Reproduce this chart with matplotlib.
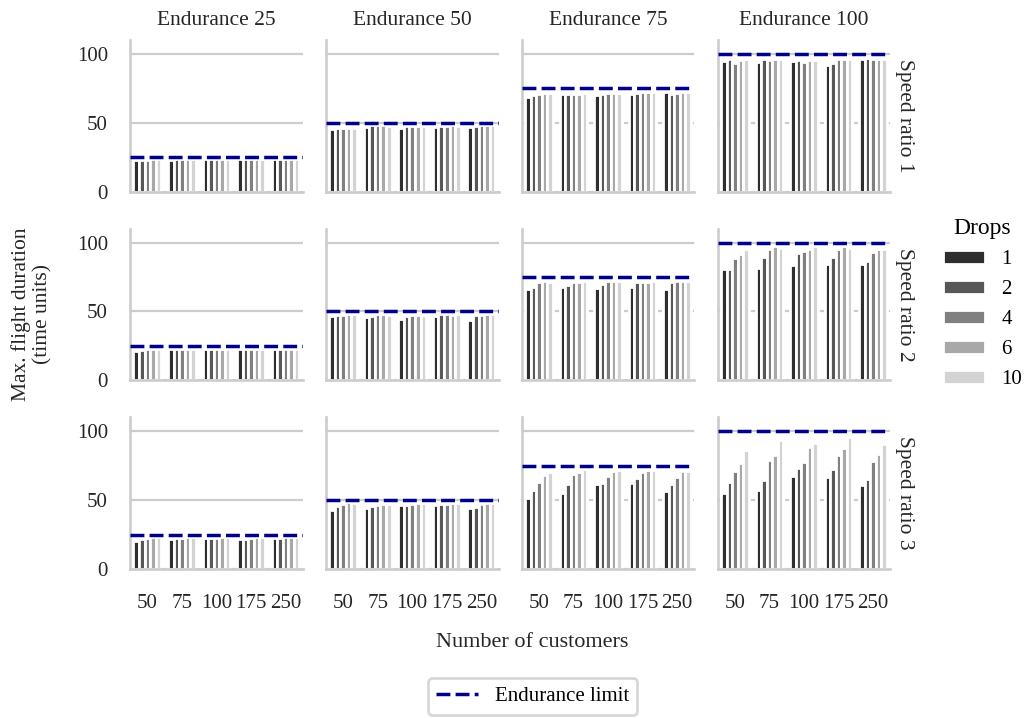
import numpy as np
import matplotlib
matplotlib.use('Agg')
import matplotlib.pyplot as plt
from matplotlib.lines import Line2D
from matplotlib.patches import Patch

plt.rcParams['font.family'] = ['Liberation Serif', 'DejaVu Serif']

customers = ['50', '75', '100', '175', '250']
drops = ['1', '2', '4', '6', '10']
endurance = [25, 50, 75, 100]
speed_ratios = [1, 2, 3]
drop_colors = ['#2e2e2e', '#575757', '#808080', '#a8a8a8', '#d3d3d3']

# each panel: rows = customers, columns = drops
e25_s1 = [[23.0, 23.0, 22.7, 23.5, 23.5],
          [23.0, 23.5, 23.5, 23.5, 23.5],
          [23.5, 23.5, 23.5, 23.5, 23.5],
          [23.5, 23.5, 23.5, 23.5, 23.5],
          [23.5, 23.5, 23.5, 23.5, 23.5]]
e50_s1 = [[45.8, 46.6, 46.1, 46.6, 46.1],
          [47.0, 48.3, 48.3, 48.3, 47.8],
          [46.6, 47.5, 47.5, 47.8, 47.5],
          [47.3, 47.5, 48.0, 48.3, 47.8],
          [47.3, 47.8, 48.3, 48.3, 48.3]]
e75_s1 = [[68.9, 70.1, 70.8, 71.8, 71.8],
          [70.6, 71.3, 70.8, 71.3, 71.8],
          [70.1, 70.6, 71.5, 72.0, 71.8],
          [70.6, 71.8, 72.5, 72.7, 72.3],
          [72.3, 71.3, 71.8, 72.3, 72.3]]
e100_s1 = [[94.6, 96.1, 93.2, 95.4, 96.1],
           [94.2, 96.6, 95.4, 96.1, 96.1],
           [95.1, 95.6, 93.9, 95.6, 95.4],
           [92.2, 93.7, 96.6, 96.6, 96.1],
           [96.6, 97.3, 96.1, 96.6, 96.6]]

e25_s2 = [[21.5, 22.0, 22.5, 22.5, 22.5],
          [22.5, 22.7, 22.7, 22.7, 22.7],
          [22.7, 22.7, 22.7, 22.7, 22.7],
          [22.5, 22.7, 22.7, 22.7, 22.7],
          [22.7, 22.7, 22.7, 22.7, 22.7]]
e50_s2 = [[46.5, 47.8, 47.5, 48.3, 48.0],
          [46.3, 46.8, 48.0, 48.0, 47.3],
          [44.8, 46.5, 47.5, 47.5, 47.5],
          [46.5, 48.0, 48.0, 47.3, 48.0],
          [44.0, 47.8, 47.5, 48.0, 48.0]]
e75_s2 = [[66.3, 67.8, 71.7, 72.4, 71.7],
          [67.8, 69.5, 71.7, 71.7, 72.0],
          [67.0, 70.2, 72.0, 72.0, 72.0],
          [67.8, 71.7, 71.7, 71.5, 72.4],
          [66.6, 71.7, 72.0, 72.4, 72.4]]
e100_s2 = [[81.0, 80.5, 88.8, 92.0, 95.1],
           [81.7, 89.5, 95.6, 97.6, 96.3],
           [83.7, 92.2, 93.7, 95.6, 97.6],
           [84.6, 89.5, 95.1, 97.6, 96.3],
           [84.4, 86.6, 93.2, 95.6, 95.6]]

e25_s3 = [[20.0, 21.5, 22.5, 23.0, 23.0],
          [22.0, 22.5, 22.5, 23.0, 23.0],
          [22.5, 22.5, 22.5, 23.0, 23.0],
          [21.5, 22.0, 22.5, 23.0, 23.0],
          [22.5, 22.5, 23.0, 23.0, 23.0]]
e50_s3 = [[43.1, 45.6, 47.5, 48.3, 48.0],
          [44.3, 45.6, 46.6, 47.0, 47.5],
          [46.3, 46.3, 47.5, 48.0, 48.0],
          [46.8, 47.0, 47.0, 47.8, 47.8],
          [44.6, 45.0, 47.5, 47.8, 47.8]]
e75_s3 = [[51.3, 57.4, 63.2, 68.0, 70.5],
          [55.2, 62.0, 69.0, 70.7, 72.4],
          [61.5, 62.7, 67.8, 71.2, 72.2],
          [62.2, 65.9, 70.5, 71.9, 71.7],
          [56.4, 62.0, 66.8, 70.9, 71.2]]
e100_s3 = [[54.9, 63.3, 71.1, 77.2, 86.4],
           [57.5, 64.8, 79.4, 83.0, 93.9],
           [67.7, 73.5, 77.9, 88.6, 91.7],
           [66.5, 72.6, 83.0, 88.1, 95.9],
           [60.9, 65.5, 78.2, 83.7, 91.0]]

panels = [[e25_s1, e50_s1, e75_s1, e100_s1],
          [e25_s2, e50_s2, e75_s2, e100_s2],
          [e25_s3, e50_s3, e75_s3, e100_s3]]

grid_col = '#cccccc'
line_col = '#00008b'
txt_col = '#262626'
fs = 15.5
tick_fs = 15

fig, axes = plt.subplots(3, 4, figsize=(10.28, 7.18), dpi=100, sharex=True, sharey=True)
fig.subplots_adjust(left=0.1265, right=0.866, bottom=0.2075, top=0.944,
                    wspace=0.134, hspace=0.245)

x = np.arange(len(customers))
bw = 0.8 / len(drops)

for r, s in enumerate(speed_ratios):
    for c, e in enumerate(endurance):
        ax = axes[r, c]
        vals = np.array(panels[r][c])
        ax.set_axisbelow(True)
        ax.grid(axis='y', color=grid_col, lw=1.6)
        ax.grid(axis='x', visible=False)
        for k in range(len(drops)):
            ax.bar(x - 0.4 + bw * (k + 0.5), vals[:, k], width=bw,
                   color=drop_colors[k], edgecolor='white', lw=2.0, zorder=2)
        ax.axhline(e, color=line_col, ls=(0, (4, 1.5)), lw=2.5, zorder=3)
        ax.set_xlim(-0.5, 4.5)
        ax.set_ylim(0, 110)
        ax.set_yticks([0, 50, 100])
        ax.set_xticks(x)
        ax.set_xticklabels(customers)
        for side in ['top', 'right']:
            ax.spines[side].set_visible(False)
        for side in ['left', 'bottom']:
            ax.spines[side].set_color(grid_col)
            ax.spines[side].set_linewidth(1.9)
        ax.tick_params(axis='both', length=0, labelsize=tick_fs, colors=txt_col)
        ax.tick_params(axis='x', pad=18)
        ax.tick_params(axis='y', pad=16)
        if r == 0:
            ax.set_title(f'Endurance {e}', fontsize=fs, pad=11, color=txt_col)
        if c == 3:
            ax.text(1.025, 0.5, f'Speed ratio {s}', transform=ax.transAxes,
                    rotation=270, va='center', ha='left', fontsize=fs, color=txt_col)

fig.text(0.031, 0.562, 'Max. flight duration\n(time units)', rotation=90,
         ha='center', va='center', fontsize=fs, color=txt_col)
fig.text(0.518, 0.1045, 'Number of customers', ha='center', va='center',
         fontsize=fs + 0.5, color=txt_col)

handles = [Patch(facecolor=col, edgecolor='white', lw=2.0) for col in drop_colors]
leg = fig.legend(handles, drops, title='Drops', loc='center left',
                 bbox_to_anchor=(0.899, 0.577), frameon=False, fontsize=tick_fs,
                 title_fontsize=17, handlelength=2.0)

lim_handle = [Line2D([0], [0], color=line_col, ls=(0, (4, 1.5)), lw=2.5)]
leg2 = fig.legend(lim_handle, ['Endurance limit'], loc='center',
                  bbox_to_anchor=(0.518, 0.03), fontsize=tick_fs, frameon=True,
                  fancybox=True, edgecolor=grid_col, handlelength=2.0)
leg2.get_frame().set_linewidth(1.9)

fig.savefig('out.png', dpi=100)
